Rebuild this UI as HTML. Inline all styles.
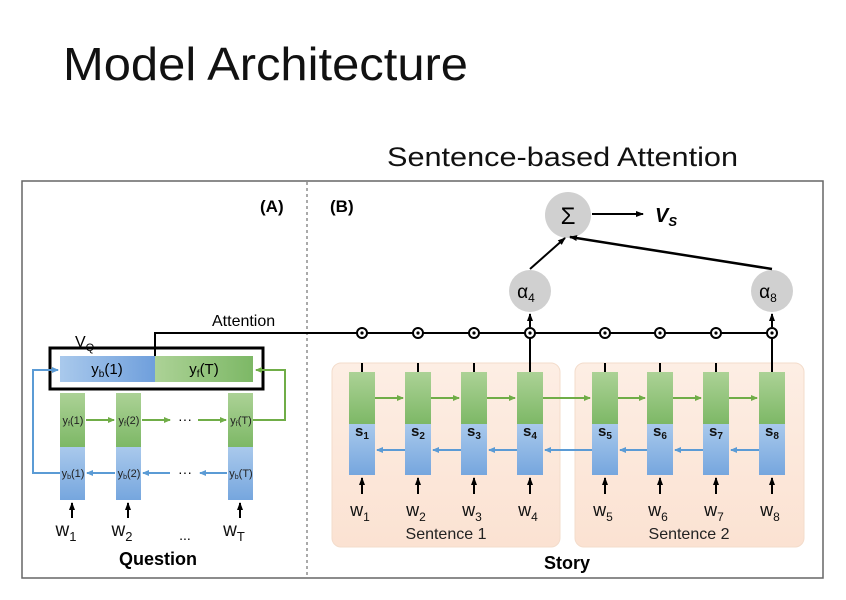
<!DOCTYPE html>
<html><head><meta charset="utf-8"><style>
html,body{margin:0;padding:0;background:#fff;}
svg{display:block;font-family:"Liberation Sans",sans-serif;}
</style></head><body>
<svg width="846" height="600" viewBox="0 0 846 600" xmlns="http://www.w3.org/2000/svg">
<defs>
<linearGradient id="gg" x1="0" y1="0" x2="0" y2="1"><stop offset="0" stop-color="#acd296"/><stop offset="1" stop-color="#7db866"/></linearGradient>
<linearGradient id="bg" x1="0" y1="0" x2="0" y2="1"><stop offset="0" stop-color="#a9c9ec"/><stop offset="1" stop-color="#76a6de"/></linearGradient>
<linearGradient id="bh" x1="0" y1="0" x2="1" y2="0"><stop offset="0" stop-color="#a9c9ec"/><stop offset="1" stop-color="#6f9fdc"/></linearGradient>
<linearGradient id="gh" x1="0" y1="0" x2="1" y2="0"><stop offset="0" stop-color="#acd296"/><stop offset="1" stop-color="#7db866"/></linearGradient>
<linearGradient id="pk" x1="0" y1="0" x2="0" y2="1"><stop offset="0" stop-color="#fdeee4"/><stop offset="1" stop-color="#fbe2d2"/></linearGradient>
<marker id="ak" markerWidth="8" markerHeight="8" refX="7" refY="4" orient="auto" markerUnits="userSpaceOnUse"><path d="M0,1 L8,4 L0,7 Z" fill="#000"/></marker>
<marker id="ag" markerWidth="7" markerHeight="7" refX="6" refY="3.5" orient="auto" markerUnits="userSpaceOnUse"><path d="M0,0.5 L7,3.5 L0,6.5 Z" fill="#70ad47"/></marker>
<marker id="ab" markerWidth="7" markerHeight="7" refX="6" refY="3.5" orient="auto" markerUnits="userSpaceOnUse"><path d="M0,0.5 L7,3.5 L0,6.5 Z" fill="#5b9bd5"/></marker>
</defs>

<text x="63" y="80" font-size="46" fill="#111" textLength="405" lengthAdjust="spacingAndGlyphs">Model Architecture</text>
<text x="387" y="166" font-size="27" fill="#111" textLength="351" lengthAdjust="spacingAndGlyphs">Sentence-based Attention</text>

<rect x="22" y="181" width="801" height="397" fill="none" stroke="#666" stroke-width="1.5"/>
<line x1="307" y1="182" x2="307" y2="577" stroke="#555" stroke-dasharray="3,3"/>

<!-- Part A -->
<text x="260" y="212" font-size="17" font-weight="bold">(A)</text>
<text x="212" y="326" font-size="16">Attention</text>
<text x="75" y="347" font-size="16">V<tspan font-size="11" dy="4">Q</tspan></text>
<rect x="50" y="348" width="213" height="41" fill="none" stroke="#000" stroke-width="3"/>
<rect x="60" y="356" width="95" height="26" fill="url(#bh)"/>
<rect x="155" y="356" width="98" height="26" fill="url(#gh)"/>
<text x="107" y="374" font-size="15" text-anchor="middle">y<tspan font-size="10" dy="3">b</tspan><tspan dy="-3">(1)</tspan></text>
<text x="204" y="374" font-size="15" text-anchor="middle">y<tspan font-size="10" dy="3">f</tspan><tspan dy="-3">(T)</tspan></text>
<polyline points="155,356 155,333 772,333" fill="none" stroke="#000" stroke-width="2"/>

<g font-size="11" text-anchor="middle" fill="#222">
<rect x="60" y="393" width="25" height="54" fill="url(#gg)"/><rect x="60" y="447" width="25" height="53" fill="url(#bg)"/>
<rect x="116" y="393" width="25" height="54" fill="url(#gg)"/><rect x="116" y="447" width="25" height="53" fill="url(#bg)"/>
<rect x="228" y="393" width="25" height="54" fill="url(#gg)"/><rect x="228" y="447" width="25" height="53" fill="url(#bg)"/>
<text x="73" y="424">y<tspan font-size="7" dy="2">f</tspan><tspan dy="-2">(1)</tspan></text>
<text x="129" y="424">y<tspan font-size="7" dy="2">f</tspan><tspan dy="-2">(2)</tspan></text>
<text x="241" y="424">y<tspan font-size="7" dy="2">f</tspan><tspan dy="-2">(T)</tspan></text>
<text x="73" y="477">y<tspan font-size="7" dy="2">b</tspan><tspan dy="-2">(1)</tspan></text>
<text x="129" y="477">y<tspan font-size="7" dy="2">b</tspan><tspan dy="-2">(2)</tspan></text>
<text x="241" y="477">y<tspan font-size="7" dy="2">b</tspan><tspan dy="-2">(T)</tspan></text>
</g>
<text x="185" y="424" font-size="14" text-anchor="middle">···</text>
<text x="185" y="477" font-size="14" text-anchor="middle">···</text>
<g stroke="#70ad47" stroke-width="2" fill="none">
<line x1="86" y1="420" x2="114" y2="420" marker-end="url(#ag)"/>
<line x1="142" y1="420" x2="170" y2="420" marker-end="url(#ag)"/>
<line x1="198" y1="420" x2="226" y2="420" marker-end="url(#ag)"/>
<polyline points="253,420 285,420 285,370 256,370" marker-end="url(#ag)"/>
</g>
<g stroke="#5b9bd5" stroke-width="2" fill="none">
<line x1="115" y1="473" x2="87" y2="473" marker-end="url(#ab)"/>
<line x1="170" y1="473" x2="143" y2="473" marker-end="url(#ab)"/>
<line x1="227" y1="473" x2="200" y2="473" marker-end="url(#ab)"/>
<polyline points="60,473 33,473 33,370 58,370" marker-end="url(#ab)"/>
</g>
<g stroke="#000" stroke-width="2">
<line x1="72" y1="518" x2="72" y2="503" marker-end="url(#ak)"/>
<line x1="128" y1="518" x2="128" y2="503" marker-end="url(#ak)"/>
<line x1="240" y1="518" x2="240" y2="503" marker-end="url(#ak)"/>
</g>
<g font-size="19" fill="#111" text-anchor="middle">
<text x="66" y="536">w<tspan font-size="13" dy="5">1</tspan></text>
<text x="122" y="536">w<tspan font-size="13" dy="5">2</tspan></text>
<text x="234" y="536">w<tspan font-size="13" dy="5">T</tspan></text>
</g>
<text x="185" y="540" font-size="14" text-anchor="middle">...</text>
<text x="158" y="565" font-size="18" font-weight="bold" text-anchor="middle">Question</text>

<!-- Part B -->
<text x="330" y="212" font-size="17" font-weight="bold">(B)</text>
<rect x="332" y="363" width="228" height="184" rx="9" fill="url(#pk)" stroke="#f3dccb"/>
<rect x="575" y="363" width="229" height="184" rx="9" fill="url(#pk)" stroke="#f3dccb"/>

<circle cx="568" cy="215" r="23" fill="#d0d0d0"/>
<text x="568" y="224" font-size="24" text-anchor="middle">Σ</text>
<line x1="592" y1="214" x2="643" y2="214" stroke="#000" stroke-width="2" marker-end="url(#ak)"/>
<text x="655" y="222" font-size="20" font-weight="bold" font-style="italic">V<tspan font-size="13" dy="4">S</tspan></text>
<circle cx="530" cy="291" r="21" fill="#d0d0d0"/>
<circle cx="772" cy="291" r="21" fill="#d0d0d0"/>
<text x="526" y="298" font-size="19" text-anchor="middle">α<tspan font-size="12" dy="4">4</tspan></text>
<text x="768" y="298" font-size="19" text-anchor="middle">α<tspan font-size="12" dy="4">8</tspan></text>
<line x1="530" y1="269" x2="565" y2="238" stroke="#000" stroke-width="2" marker-end="url(#ak)"/>
<line x1="772" y1="269" x2="570" y2="237" stroke="#000" stroke-width="2.5" marker-end="url(#ak)"/>

<g stroke="#000" stroke-width="2" fill="#fff">
<line x1="530" y1="327" x2="530" y2="314" marker-end="url(#ak)"/>
<line x1="772" y1="327" x2="772" y2="314" marker-end="url(#ak)"/>
<line x1="530" y1="333" x2="530" y2="372"/>
<line x1="772" y1="333" x2="772" y2="372"/>
<line x1="362" y1="363" x2="362" y2="372"/><line x1="418" y1="363" x2="418" y2="372"/><line x1="474" y1="363" x2="474" y2="372"/>
<line x1="605" y1="363" x2="605" y2="372"/><line x1="660" y1="363" x2="660" y2="372"/><line x1="716" y1="363" x2="716" y2="372"/>
<circle cx="362" cy="333" r="5"/><circle cx="418" cy="333" r="5"/><circle cx="474" cy="333" r="5"/><circle cx="530" cy="333" r="5"/>
<circle cx="605" cy="333" r="5"/><circle cx="660" cy="333" r="5"/><circle cx="716" cy="333" r="5"/><circle cx="772" cy="333" r="5"/>
</g>
<g fill="#000">
<circle cx="362" cy="333" r="1.6"/><circle cx="418" cy="333" r="1.6"/><circle cx="474" cy="333" r="1.6"/><circle cx="530" cy="333" r="1.6"/>
<circle cx="605" cy="333" r="1.6"/><circle cx="660" cy="333" r="1.6"/><circle cx="716" cy="333" r="1.6"/><circle cx="772" cy="333" r="1.6"/>
</g>

<g>
<rect x="349" y="372" width="26" height="52" fill="url(#gg)"/><rect x="349" y="424" width="26" height="51" fill="url(#bg)"/>
<rect x="405" y="372" width="26" height="52" fill="url(#gg)"/><rect x="405" y="424" width="26" height="51" fill="url(#bg)"/>
<rect x="461" y="372" width="26" height="52" fill="url(#gg)"/><rect x="461" y="424" width="26" height="51" fill="url(#bg)"/>
<rect x="517" y="372" width="26" height="52" fill="url(#gg)"/><rect x="517" y="424" width="26" height="51" fill="url(#bg)"/>
<rect x="592" y="372" width="26" height="52" fill="url(#gg)"/><rect x="592" y="424" width="26" height="51" fill="url(#bg)"/>
<rect x="647" y="372" width="26" height="52" fill="url(#gg)"/><rect x="647" y="424" width="26" height="51" fill="url(#bg)"/>
<rect x="703" y="372" width="26" height="52" fill="url(#gg)"/><rect x="703" y="424" width="26" height="51" fill="url(#bg)"/>
<rect x="759" y="372" width="26" height="52" fill="url(#gg)"/><rect x="759" y="424" width="26" height="51" fill="url(#bg)"/>
</g>
<g font-size="15" font-weight="bold" text-anchor="middle" fill="#111">
<text x="362" y="436">s<tspan font-size="10" dy="3">1</tspan></text>
<text x="418" y="436">s<tspan font-size="10" dy="3">2</tspan></text>
<text x="474" y="436">s<tspan font-size="10" dy="3">3</tspan></text>
<text x="530" y="436">s<tspan font-size="10" dy="3">4</tspan></text>
<text x="605" y="436">s<tspan font-size="10" dy="3">5</tspan></text>
<text x="660" y="436">s<tspan font-size="10" dy="3">6</tspan></text>
<text x="716" y="436">s<tspan font-size="10" dy="3">7</tspan></text>
<text x="772" y="436">s<tspan font-size="10" dy="3">8</tspan></text>
</g>
<g stroke="#70ad47" stroke-width="2">
<line x1="375" y1="398" x2="403" y2="398" marker-end="url(#ag)"/>
<line x1="431" y1="398" x2="459" y2="398" marker-end="url(#ag)"/>
<line x1="487" y1="398" x2="515" y2="398" marker-end="url(#ag)"/>
<line x1="543" y1="398" x2="590" y2="398" marker-end="url(#ag)"/>
<line x1="618" y1="398" x2="645" y2="398" marker-end="url(#ag)"/>
<line x1="673" y1="398" x2="701" y2="398" marker-end="url(#ag)"/>
<line x1="729" y1="398" x2="757" y2="398" marker-end="url(#ag)"/>
</g>
<g stroke="#5b9bd5" stroke-width="2">
<line x1="405" y1="450" x2="377" y2="450" marker-end="url(#ab)"/>
<line x1="461" y1="450" x2="433" y2="450" marker-end="url(#ab)"/>
<line x1="517" y1="450" x2="489" y2="450" marker-end="url(#ab)"/>
<line x1="592" y1="450" x2="545" y2="450" marker-end="url(#ab)"/>
<line x1="647" y1="450" x2="620" y2="450" marker-end="url(#ab)"/>
<line x1="703" y1="450" x2="675" y2="450" marker-end="url(#ab)"/>
<line x1="759" y1="450" x2="731" y2="450" marker-end="url(#ab)"/>
</g>
<g stroke="#000" stroke-width="2">
<line x1="362" y1="494" x2="362" y2="478" marker-end="url(#ak)"/>
<line x1="418" y1="494" x2="418" y2="478" marker-end="url(#ak)"/>
<line x1="474" y1="494" x2="474" y2="478" marker-end="url(#ak)"/>
<line x1="530" y1="494" x2="530" y2="478" marker-end="url(#ak)"/>
<line x1="605" y1="494" x2="605" y2="478" marker-end="url(#ak)"/>
<line x1="660" y1="494" x2="660" y2="478" marker-end="url(#ak)"/>
<line x1="716" y1="494" x2="716" y2="478" marker-end="url(#ak)"/>
<line x1="772" y1="494" x2="772" y2="478" marker-end="url(#ak)"/>
</g>
<g font-size="18" fill="#111" text-anchor="middle">
<text x="360" y="516">w<tspan font-size="12" dy="5">1</tspan></text>
<text x="416" y="516">w<tspan font-size="12" dy="5">2</tspan></text>
<text x="472" y="516">w<tspan font-size="12" dy="5">3</tspan></text>
<text x="528" y="516">w<tspan font-size="12" dy="5">4</tspan></text>
<text x="603" y="516">w<tspan font-size="12" dy="5">5</tspan></text>
<text x="658" y="516">w<tspan font-size="12" dy="5">6</tspan></text>
<text x="714" y="516">w<tspan font-size="12" dy="5">7</tspan></text>
<text x="770" y="516">w<tspan font-size="12" dy="5">8</tspan></text>
</g>
<text x="446" y="539" font-size="16" text-anchor="middle" fill="#222">Sentence 1</text>
<text x="689" y="539" font-size="16" text-anchor="middle" fill="#222">Sentence 2</text>
<text x="567" y="569" font-size="18" font-weight="bold" text-anchor="middle">Story</text>
</svg>
</body></html>
